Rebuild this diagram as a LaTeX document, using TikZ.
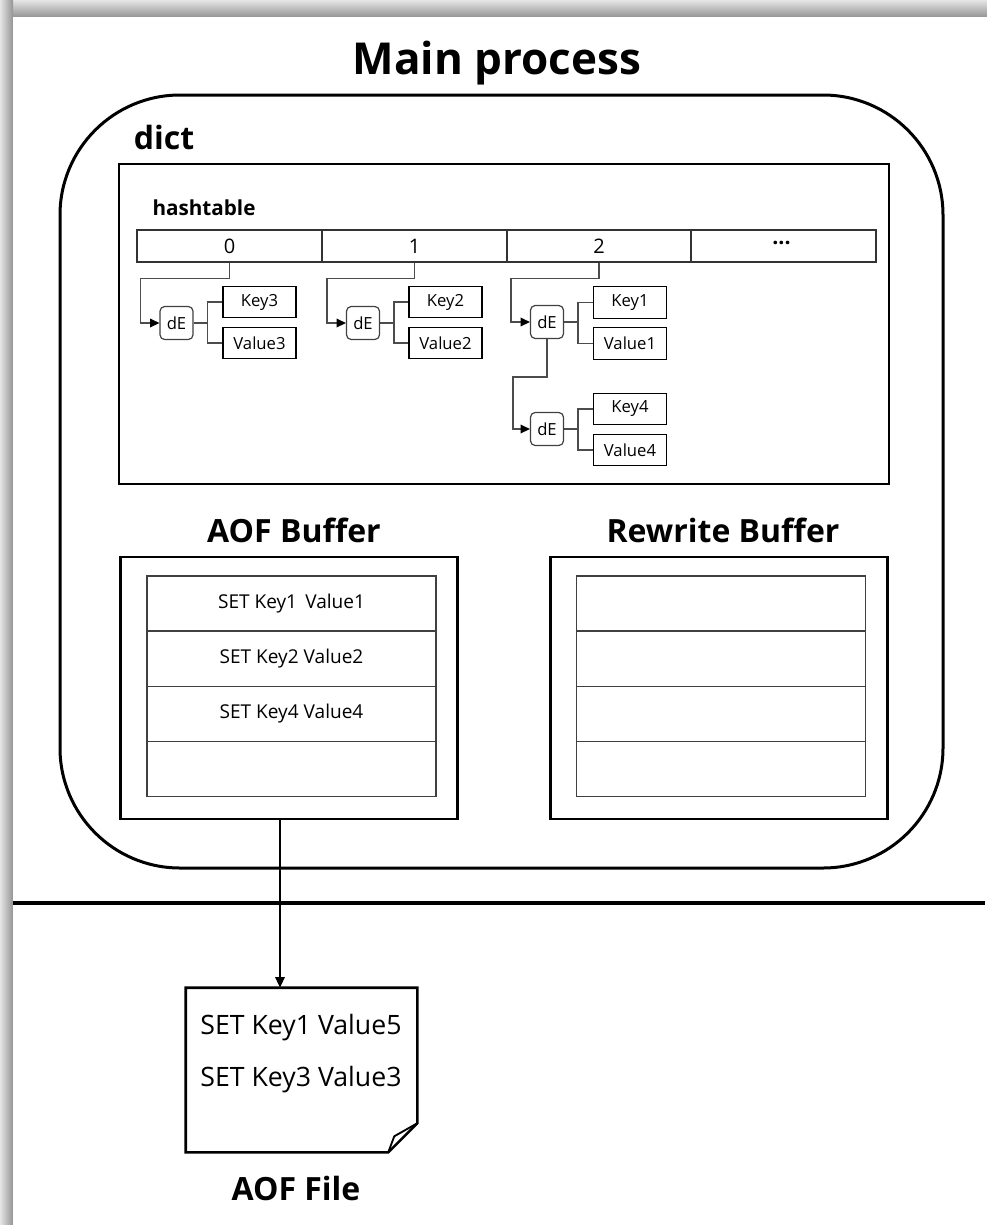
\documentclass[tikz,border=0pt]{standalone}
\usepackage{fontspec}
\setmainfont{Open Sans}
\usetikzlibrary{arrows.meta,calc}
\begin{document}
\begin{tikzpicture}[x=0.75pt,y=-0.75pt,
  cell/.style={draw=black!80, line width=1.1pt, minimum width=138.6pt, minimum height=24pt, inner sep=0pt, font=\fontsize{15}{17}\selectfont},
  debox/.style={draw=black!75, line width=0.9pt, rounded corners=3.5pt, minimum width=24.75pt, minimum height=24.75pt, inner sep=0pt, font=\fontsize{12.5}{14}\selectfont},
  kv/.style={draw=black, line width=0.9pt, minimum width=54.75pt, minimum height=23.5pt, inner sep=0pt, font=\fontsize{12.5}{14}\selectfont},
  link/.style={draw=black!70, line width=1.1pt},
  bufrow/.style={draw=black!75, line width=1pt, minimum width=216.75pt, minimum height=41.4pt, inner sep=0pt, font=\fontsize{14.3}{16}\selectfont},
  bufbox/.style={draw=black, line width=1.9pt, minimum width=252.75pt, minimum height=196.5pt, inner sep=0pt},
  bigtitle/.style={font=\fontsize{24}{28}\bfseries, inner sep=0pt},
  tip/.style={-{Triangle[length=7pt,width=6.5pt,black]}}
]
\useasboundingbox (0,0) rectangle (987,1225);
\fill[white] (0,0) rectangle (987,1225);
\shade[top color=black!10, bottom color=black!42] (0,0) rectangle (987,17);
\shade[left color=black!10, right color=black!42] (0,0) rectangle (13,1225);
\fill[white] (13,17) rectangle (987,1225);

% title and main box
\node[font=\fontsize{33}{36}\bfseries, inner sep=0pt] (title) at (497,63) {Main process};
\node[draw, line width=2.25pt, rounded corners=90pt, minimum width=662.25pt, minimum height=579.75pt] (mainbox) at (501.5,481.5) {};
\node[bigtitle] (dict) at (164,137) {dict};

% hashtable
\node[draw, line width=1.9pt, minimum width=577.5pt, minimum height=240pt] (hbox) at (504,324) {};
\node[font=\fontsize{15.5}{18}\bfseries, inner sep=0pt] (htitle) at (204,208) {hashtable};

\node[cell] (c0) at (229.5,246) {0};
\node[cell] (c1) at (414.5,246) {1};
\node[cell] (c2) at (599,246) {2};
\node[cell, font=\fontsize{16}{18}\bfseries] (c3) at (783.5,246) {\hspace*{-3pt}\raisebox{-0.25ex}{\textperiodcentered\textperiodcentered\textperiodcentered}};

% dict entries
\node[debox] (d0) at (176.5,323) {dE};
\node[kv] (k0) at (259.5,302) {Key3};
\node[kv] (v0) at (259.5,343) {Value3};
\node[debox] (d1) at (363,323) {dE};
\node[kv] (k1) at (445.5,302) {Key2};
\node[kv] (v1) at (445.5,343) {Value2};
\node[debox] (d2) at (547,322) {dE};
\node[kv] (k2) at (630,302.5) {Key1};
\node[kv] (v2) at (630,343.5) {Value1};
\node[debox] (d4) at (547,429) {dE};
\node[kv] (k4) at (630,409) {Key4};
\node[kv] (v4) at (630,450) {Value4};

\foreach \c/\d in {c0/d0, c1/d1, c2/d2}{
  \draw[link, tip] (\c.south) -- ++(0,16) -| ($(\d.west)+(-19,0)$) -- (\d.west);
}
\foreach \d/\k/\v in {d0/k0/v0, d1/k1/v1, d2/k2/v2, d4/k4/v4}{
  \draw[link] (\d.east) -- ++(14,0) |- (\k.west);
  \draw[link] ($(\d.east)+(14,0)$) |- (\v.west);
}
\draw[link, tip] (d2.south) -- ++(0,38) -| ($(d4.west)+(-17,0)$) -- (d4.west);

% buffers
\node[bigtitle] (aoft) at (294,530) {AOF Buffer};
\node[bigtitle] (rwt) at (723,530) {Rewrite Buffer};
\node[bufbox] (aofbuf) at (289,688) {};
\node[bufbox] (rwbuf) at (719,688) {};

\node[bufrow] (a1) at (291.5,603.5) {SET Key1\ \,Value1};
\node[bufrow] (a2) at (291.5,659) {SET Key2 Value2};
\node[bufrow] (a3) at (291.5,714) {SET Key4 Value4};
\node[bufrow] (a4) at (291.5,769) {};
\node[bufrow] (r1) at (721,603.5) {};
\node[bufrow] (r2) at (721,659) {};
\node[bufrow] (r3) at (721,714) {};
\node[bufrow] (r4) at (721,769) {};

% separator
\draw[line width=3pt] (13,903) -- (985,903);

% AOF file
\node[minimum width=173.25pt, minimum height=123pt, inner sep=0pt] (aoffile) at (301.5,1070) {};
\draw[line width=1.9pt, line join=miter]
  (aoffile.north west) -- (aoffile.north east) -- ($(aoffile.south east)+(0,-29)$)
  -- ($(aoffile.south east)+(-29,0)$) -- (aoffile.south west) -- cycle;
\draw[line width=1.4pt, line join=round]
  ($(aoffile.south east)+(-29,0)$) -- ($(aoffile.south east)+(-23,-16)$) -- ($(aoffile.south east)+(0,-29)$);
\node[font=\fontsize{20}{39}\selectfont, align=center, inner sep=0pt] (aoflines) at (301,1054) {SET Key1 Value5\\SET Key3 Value3};
\node[bigtitle] (aoffilet) at (296,1188) {AOF File};

\coordinate (as) at ($(aofbuf.south)+(-9,0)$);
\draw[line width=1.5pt, -{Triangle[length=8pt,width=7pt]}] (as) -- (as |- aoffile.north);
\end{tikzpicture}
\end{document}
